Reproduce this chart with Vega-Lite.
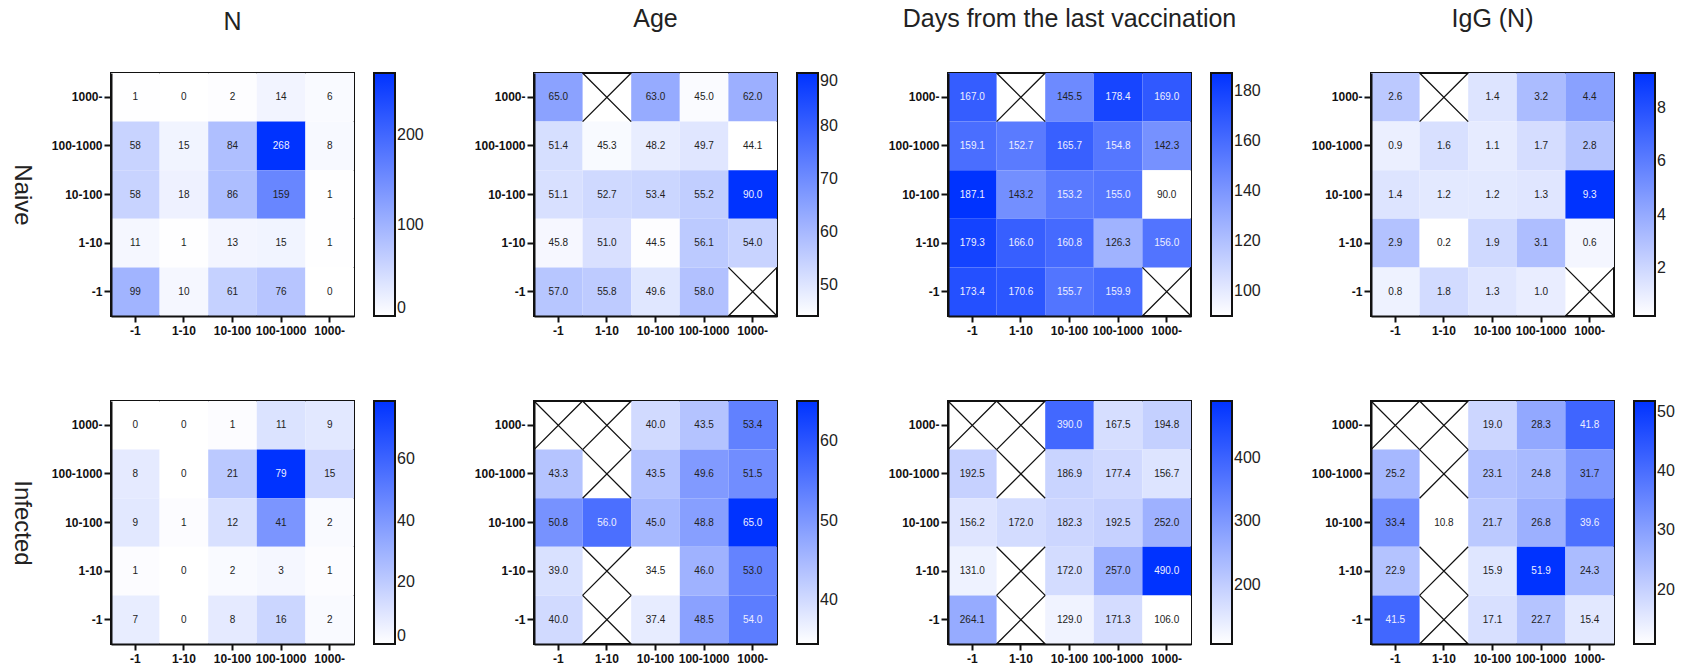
{
  "$schema": "https://vega.github.io/schema/vega-lite/v6.json",
  "padding": {"left": 8, "top": 6, "right": 0, "bottom": 2},
  "background": "white",
  "resolve": {"scale": {"color": "independent", "x": "independent", "y": "independent"}, "legend": {"color": "independent"}},
  "datasets": {
    "d": [
      {"g":"Naive","m":"N","y":"1000-","x":"-1","v":1},{"g":"Naive","m":"N","y":"1000-","x":"1-10","v":0},{"g":"Naive","m":"N","y":"1000-","x":"10-100","v":2},{"g":"Naive","m":"N","y":"1000-","x":"100-1000","v":14},{"g":"Naive","m":"N","y":"1000-","x":"1000-","v":6},
      {"g":"Naive","m":"N","y":"100-1000","x":"-1","v":58},{"g":"Naive","m":"N","y":"100-1000","x":"1-10","v":15},{"g":"Naive","m":"N","y":"100-1000","x":"10-100","v":84},{"g":"Naive","m":"N","y":"100-1000","x":"100-1000","v":268},{"g":"Naive","m":"N","y":"100-1000","x":"1000-","v":8},
      {"g":"Naive","m":"N","y":"10-100","x":"-1","v":58},{"g":"Naive","m":"N","y":"10-100","x":"1-10","v":18},{"g":"Naive","m":"N","y":"10-100","x":"10-100","v":86},{"g":"Naive","m":"N","y":"10-100","x":"100-1000","v":159},{"g":"Naive","m":"N","y":"10-100","x":"1000-","v":1},
      {"g":"Naive","m":"N","y":"1-10","x":"-1","v":11},{"g":"Naive","m":"N","y":"1-10","x":"1-10","v":1},{"g":"Naive","m":"N","y":"1-10","x":"10-100","v":13},{"g":"Naive","m":"N","y":"1-10","x":"100-1000","v":15},{"g":"Naive","m":"N","y":"1-10","x":"1000-","v":1},
      {"g":"Naive","m":"N","y":"-1","x":"-1","v":99},{"g":"Naive","m":"N","y":"-1","x":"1-10","v":10},{"g":"Naive","m":"N","y":"-1","x":"10-100","v":61},{"g":"Naive","m":"N","y":"-1","x":"100-1000","v":76},{"g":"Naive","m":"N","y":"-1","x":"1000-","v":0},

      {"g":"Naive","m":"Age","y":"1000-","x":"-1","v":65.0},{"g":"Naive","m":"Age","y":"1000-","x":"1-10","v":null},{"g":"Naive","m":"Age","y":"1000-","x":"10-100","v":63.0},{"g":"Naive","m":"Age","y":"1000-","x":"100-1000","v":45.0},{"g":"Naive","m":"Age","y":"1000-","x":"1000-","v":62.0},
      {"g":"Naive","m":"Age","y":"100-1000","x":"-1","v":51.4},{"g":"Naive","m":"Age","y":"100-1000","x":"1-10","v":45.3},{"g":"Naive","m":"Age","y":"100-1000","x":"10-100","v":48.2},{"g":"Naive","m":"Age","y":"100-1000","x":"100-1000","v":49.7},{"g":"Naive","m":"Age","y":"100-1000","x":"1000-","v":44.1},
      {"g":"Naive","m":"Age","y":"10-100","x":"-1","v":51.1},{"g":"Naive","m":"Age","y":"10-100","x":"1-10","v":52.7},{"g":"Naive","m":"Age","y":"10-100","x":"10-100","v":53.4},{"g":"Naive","m":"Age","y":"10-100","x":"100-1000","v":55.2},{"g":"Naive","m":"Age","y":"10-100","x":"1000-","v":90.0},
      {"g":"Naive","m":"Age","y":"1-10","x":"-1","v":45.8},{"g":"Naive","m":"Age","y":"1-10","x":"1-10","v":51.0},{"g":"Naive","m":"Age","y":"1-10","x":"10-100","v":44.5},{"g":"Naive","m":"Age","y":"1-10","x":"100-1000","v":56.1},{"g":"Naive","m":"Age","y":"1-10","x":"1000-","v":54.0},
      {"g":"Naive","m":"Age","y":"-1","x":"-1","v":57.0},{"g":"Naive","m":"Age","y":"-1","x":"1-10","v":55.8},{"g":"Naive","m":"Age","y":"-1","x":"10-100","v":49.6},{"g":"Naive","m":"Age","y":"-1","x":"100-1000","v":58.0},{"g":"Naive","m":"Age","y":"-1","x":"1000-","v":null},

      {"g":"Naive","m":"Days","y":"1000-","x":"-1","v":167.0},{"g":"Naive","m":"Days","y":"1000-","x":"1-10","v":null},{"g":"Naive","m":"Days","y":"1000-","x":"10-100","v":145.5},{"g":"Naive","m":"Days","y":"1000-","x":"100-1000","v":178.4},{"g":"Naive","m":"Days","y":"1000-","x":"1000-","v":169.0},
      {"g":"Naive","m":"Days","y":"100-1000","x":"-1","v":159.1},{"g":"Naive","m":"Days","y":"100-1000","x":"1-10","v":152.7},{"g":"Naive","m":"Days","y":"100-1000","x":"10-100","v":165.7},{"g":"Naive","m":"Days","y":"100-1000","x":"100-1000","v":154.8},{"g":"Naive","m":"Days","y":"100-1000","x":"1000-","v":142.3},
      {"g":"Naive","m":"Days","y":"10-100","x":"-1","v":187.1},{"g":"Naive","m":"Days","y":"10-100","x":"1-10","v":143.2},{"g":"Naive","m":"Days","y":"10-100","x":"10-100","v":153.2},{"g":"Naive","m":"Days","y":"10-100","x":"100-1000","v":155.0},{"g":"Naive","m":"Days","y":"10-100","x":"1000-","v":90.0},
      {"g":"Naive","m":"Days","y":"1-10","x":"-1","v":179.3},{"g":"Naive","m":"Days","y":"1-10","x":"1-10","v":166.0},{"g":"Naive","m":"Days","y":"1-10","x":"10-100","v":160.8},{"g":"Naive","m":"Days","y":"1-10","x":"100-1000","v":126.3},{"g":"Naive","m":"Days","y":"1-10","x":"1000-","v":156.0},
      {"g":"Naive","m":"Days","y":"-1","x":"-1","v":173.4},{"g":"Naive","m":"Days","y":"-1","x":"1-10","v":170.6},{"g":"Naive","m":"Days","y":"-1","x":"10-100","v":155.7},{"g":"Naive","m":"Days","y":"-1","x":"100-1000","v":159.9},{"g":"Naive","m":"Days","y":"-1","x":"1000-","v":null},

      {"g":"Naive","m":"IgG","y":"1000-","x":"-1","v":2.6},{"g":"Naive","m":"IgG","y":"1000-","x":"1-10","v":null},{"g":"Naive","m":"IgG","y":"1000-","x":"10-100","v":1.4},{"g":"Naive","m":"IgG","y":"1000-","x":"100-1000","v":3.2},{"g":"Naive","m":"IgG","y":"1000-","x":"1000-","v":4.4},
      {"g":"Naive","m":"IgG","y":"100-1000","x":"-1","v":0.9},{"g":"Naive","m":"IgG","y":"100-1000","x":"1-10","v":1.6},{"g":"Naive","m":"IgG","y":"100-1000","x":"10-100","v":1.1},{"g":"Naive","m":"IgG","y":"100-1000","x":"100-1000","v":1.7},{"g":"Naive","m":"IgG","y":"100-1000","x":"1000-","v":2.8},
      {"g":"Naive","m":"IgG","y":"10-100","x":"-1","v":1.4},{"g":"Naive","m":"IgG","y":"10-100","x":"1-10","v":1.2},{"g":"Naive","m":"IgG","y":"10-100","x":"10-100","v":1.2},{"g":"Naive","m":"IgG","y":"10-100","x":"100-1000","v":1.3},{"g":"Naive","m":"IgG","y":"10-100","x":"1000-","v":9.3},
      {"g":"Naive","m":"IgG","y":"1-10","x":"-1","v":2.9},{"g":"Naive","m":"IgG","y":"1-10","x":"1-10","v":0.2},{"g":"Naive","m":"IgG","y":"1-10","x":"10-100","v":1.9},{"g":"Naive","m":"IgG","y":"1-10","x":"100-1000","v":3.1},{"g":"Naive","m":"IgG","y":"1-10","x":"1000-","v":0.6},
      {"g":"Naive","m":"IgG","y":"-1","x":"-1","v":0.8},{"g":"Naive","m":"IgG","y":"-1","x":"1-10","v":1.8},{"g":"Naive","m":"IgG","y":"-1","x":"10-100","v":1.3},{"g":"Naive","m":"IgG","y":"-1","x":"100-1000","v":1.0},{"g":"Naive","m":"IgG","y":"-1","x":"1000-","v":null},

      {"g":"Infected","m":"N","y":"1000-","x":"-1","v":0},{"g":"Infected","m":"N","y":"1000-","x":"1-10","v":0},{"g":"Infected","m":"N","y":"1000-","x":"10-100","v":1},{"g":"Infected","m":"N","y":"1000-","x":"100-1000","v":11},{"g":"Infected","m":"N","y":"1000-","x":"1000-","v":9},
      {"g":"Infected","m":"N","y":"100-1000","x":"-1","v":8},{"g":"Infected","m":"N","y":"100-1000","x":"1-10","v":0},{"g":"Infected","m":"N","y":"100-1000","x":"10-100","v":21},{"g":"Infected","m":"N","y":"100-1000","x":"100-1000","v":79},{"g":"Infected","m":"N","y":"100-1000","x":"1000-","v":15},
      {"g":"Infected","m":"N","y":"10-100","x":"-1","v":9},{"g":"Infected","m":"N","y":"10-100","x":"1-10","v":1},{"g":"Infected","m":"N","y":"10-100","x":"10-100","v":12},{"g":"Infected","m":"N","y":"10-100","x":"100-1000","v":41},{"g":"Infected","m":"N","y":"10-100","x":"1000-","v":2},
      {"g":"Infected","m":"N","y":"1-10","x":"-1","v":1},{"g":"Infected","m":"N","y":"1-10","x":"1-10","v":0},{"g":"Infected","m":"N","y":"1-10","x":"10-100","v":2},{"g":"Infected","m":"N","y":"1-10","x":"100-1000","v":3},{"g":"Infected","m":"N","y":"1-10","x":"1000-","v":1},
      {"g":"Infected","m":"N","y":"-1","x":"-1","v":7},{"g":"Infected","m":"N","y":"-1","x":"1-10","v":0},{"g":"Infected","m":"N","y":"-1","x":"10-100","v":8},{"g":"Infected","m":"N","y":"-1","x":"100-1000","v":16},{"g":"Infected","m":"N","y":"-1","x":"1000-","v":2},

      {"g":"Infected","m":"Age","y":"1000-","x":"-1","v":null},{"g":"Infected","m":"Age","y":"1000-","x":"1-10","v":null},{"g":"Infected","m":"Age","y":"1000-","x":"10-100","v":40.0},{"g":"Infected","m":"Age","y":"1000-","x":"100-1000","v":43.5},{"g":"Infected","m":"Age","y":"1000-","x":"1000-","v":53.4},
      {"g":"Infected","m":"Age","y":"100-1000","x":"-1","v":43.3},{"g":"Infected","m":"Age","y":"100-1000","x":"1-10","v":null},{"g":"Infected","m":"Age","y":"100-1000","x":"10-100","v":43.5},{"g":"Infected","m":"Age","y":"100-1000","x":"100-1000","v":49.6},{"g":"Infected","m":"Age","y":"100-1000","x":"1000-","v":51.5},
      {"g":"Infected","m":"Age","y":"10-100","x":"-1","v":50.8},{"g":"Infected","m":"Age","y":"10-100","x":"1-10","v":56.0},{"g":"Infected","m":"Age","y":"10-100","x":"10-100","v":45.0},{"g":"Infected","m":"Age","y":"10-100","x":"100-1000","v":48.8},{"g":"Infected","m":"Age","y":"10-100","x":"1000-","v":65.0},
      {"g":"Infected","m":"Age","y":"1-10","x":"-1","v":39.0},{"g":"Infected","m":"Age","y":"1-10","x":"1-10","v":null},{"g":"Infected","m":"Age","y":"1-10","x":"10-100","v":34.5},{"g":"Infected","m":"Age","y":"1-10","x":"100-1000","v":46.0},{"g":"Infected","m":"Age","y":"1-10","x":"1000-","v":53.0},
      {"g":"Infected","m":"Age","y":"-1","x":"-1","v":40.0},{"g":"Infected","m":"Age","y":"-1","x":"1-10","v":null},{"g":"Infected","m":"Age","y":"-1","x":"10-100","v":37.4},{"g":"Infected","m":"Age","y":"-1","x":"100-1000","v":48.5},{"g":"Infected","m":"Age","y":"-1","x":"1000-","v":54.0},

      {"g":"Infected","m":"Days","y":"1000-","x":"-1","v":null},{"g":"Infected","m":"Days","y":"1000-","x":"1-10","v":null},{"g":"Infected","m":"Days","y":"1000-","x":"10-100","v":390.0},{"g":"Infected","m":"Days","y":"1000-","x":"100-1000","v":167.5},{"g":"Infected","m":"Days","y":"1000-","x":"1000-","v":194.8},
      {"g":"Infected","m":"Days","y":"100-1000","x":"-1","v":192.5},{"g":"Infected","m":"Days","y":"100-1000","x":"1-10","v":null},{"g":"Infected","m":"Days","y":"100-1000","x":"10-100","v":186.9},{"g":"Infected","m":"Days","y":"100-1000","x":"100-1000","v":177.4},{"g":"Infected","m":"Days","y":"100-1000","x":"1000-","v":156.7},
      {"g":"Infected","m":"Days","y":"10-100","x":"-1","v":156.2},{"g":"Infected","m":"Days","y":"10-100","x":"1-10","v":172.0},{"g":"Infected","m":"Days","y":"10-100","x":"10-100","v":182.3},{"g":"Infected","m":"Days","y":"10-100","x":"100-1000","v":192.5},{"g":"Infected","m":"Days","y":"10-100","x":"1000-","v":252.0},
      {"g":"Infected","m":"Days","y":"1-10","x":"-1","v":131.0},{"g":"Infected","m":"Days","y":"1-10","x":"1-10","v":null},{"g":"Infected","m":"Days","y":"1-10","x":"10-100","v":172.0},{"g":"Infected","m":"Days","y":"1-10","x":"100-1000","v":257.0},{"g":"Infected","m":"Days","y":"1-10","x":"1000-","v":490.0},
      {"g":"Infected","m":"Days","y":"-1","x":"-1","v":264.1},{"g":"Infected","m":"Days","y":"-1","x":"1-10","v":null},{"g":"Infected","m":"Days","y":"-1","x":"10-100","v":129.0},{"g":"Infected","m":"Days","y":"-1","x":"100-1000","v":171.3},{"g":"Infected","m":"Days","y":"-1","x":"1000-","v":106.0},

      {"g":"Infected","m":"IgG","y":"1000-","x":"-1","v":null},{"g":"Infected","m":"IgG","y":"1000-","x":"1-10","v":null},{"g":"Infected","m":"IgG","y":"1000-","x":"10-100","v":19.0},{"g":"Infected","m":"IgG","y":"1000-","x":"100-1000","v":28.3},{"g":"Infected","m":"IgG","y":"1000-","x":"1000-","v":41.8},
      {"g":"Infected","m":"IgG","y":"100-1000","x":"-1","v":25.2},{"g":"Infected","m":"IgG","y":"100-1000","x":"1-10","v":null},{"g":"Infected","m":"IgG","y":"100-1000","x":"10-100","v":23.1},{"g":"Infected","m":"IgG","y":"100-1000","x":"100-1000","v":24.8},{"g":"Infected","m":"IgG","y":"100-1000","x":"1000-","v":31.7},
      {"g":"Infected","m":"IgG","y":"10-100","x":"-1","v":33.4},{"g":"Infected","m":"IgG","y":"10-100","x":"1-10","v":10.8},{"g":"Infected","m":"IgG","y":"10-100","x":"10-100","v":21.7},{"g":"Infected","m":"IgG","y":"10-100","x":"100-1000","v":26.8},{"g":"Infected","m":"IgG","y":"10-100","x":"1000-","v":39.6},
      {"g":"Infected","m":"IgG","y":"1-10","x":"-1","v":22.9},{"g":"Infected","m":"IgG","y":"1-10","x":"1-10","v":null},{"g":"Infected","m":"IgG","y":"1-10","x":"10-100","v":15.9},{"g":"Infected","m":"IgG","y":"1-10","x":"100-1000","v":51.9},{"g":"Infected","m":"IgG","y":"1-10","x":"1000-","v":24.3},
      {"g":"Infected","m":"IgG","y":"-1","x":"-1","v":41.5},{"g":"Infected","m":"IgG","y":"-1","x":"1-10","v":null},{"g":"Infected","m":"IgG","y":"-1","x":"10-100","v":17.1},{"g":"Infected","m":"IgG","y":"-1","x":"100-1000","v":22.7},{"g":"Infected","m":"IgG","y":"-1","x":"1000-","v":15.4}
    ]
  },
  "columns": 4,
  "spacing": {"row": 60, "column": 48},
  "concat": [
    {
      "data": {"name": "d"}, "transform": [{"filter": "datum.g === 'Naive' && datum.m === 'N'"}],
      "width": 243, "height": 243, "title": "N",
      "encoding": {
        "x": {"field": "x", "type": "ordinal", "scale": {"domain": ["-1","1-10","10-100","100-1000","1000-"], "paddingInner": 0, "paddingOuter": 0}},
        "y": {"field": "y", "type": "ordinal", "scale": {"domain": ["1000-","100-1000","10-100","1-10","-1"], "paddingInner": 0, "paddingOuter": 0}, "axis": {"title": "Naive"}}
      },
      "layer": [
        {"transform": [{"filter": "isValid(datum.v)"}], "mark": "rect", "encoding": {"color": {"field": "v", "type": "quantitative", "scale": {"domain": [0, 268], "range": ["#ffffff", "#0033ff"], "interpolate": "rgb"}, "legend": {"title": null, "values": [0, 100, 200]}}}},
        {"transform": [{"filter": "isValid(datum.v)"}, {"joinaggregate": [{"op": "min", "field": "v", "as": "lo"}, {"op": "max", "field": "v", "as": "hi"}]}], "mark": {"type": "text", "fontSize": 10, "font": "Liberation Sans"}, "encoding": {"text": {"field": "v", "type": "quantitative", "format": "d"}, "color": {"condition": {"test": "(datum.v - datum.lo) / (datum.hi - datum.lo) > 0.63", "value": "#eeeeff"}, "value": "#222222"}}},
        {"transform": [{"filter": "!isValid(datum.v)"}], "mark": {"type": "point", "shape": "M-1,-1L1,1M-1,1L1,-1", "size": 2362, "filled": false, "stroke": "#111111", "strokeWidth": 1.3, "opacity": 1}, "encoding": {}}
      ]
    },
    {
      "data": {"name": "d"}, "transform": [{"filter": "datum.g === 'Naive' && datum.m === 'Age'"}],
      "width": 243, "height": 243, "title": "Age",
      "encoding": {
        "x": {"field": "x", "type": "ordinal", "scale": {"domain": ["-1","1-10","10-100","100-1000","1000-"], "paddingInner": 0, "paddingOuter": 0}},
        "y": {"field": "y", "type": "ordinal", "scale": {"domain": ["1000-","100-1000","10-100","1-10","-1"], "paddingInner": 0, "paddingOuter": 0}}
      },
      "layer": [
        {"transform": [{"filter": "isValid(datum.v)"}], "mark": "rect", "encoding": {"color": {"field": "v", "type": "quantitative", "scale": {"domain": [44.1, 90], "range": ["#ffffff", "#0033ff"], "interpolate": "rgb"}, "legend": {"title": null, "values": [50, 60, 70, 80, 90]}}}},
        {"transform": [{"filter": "isValid(datum.v)"}, {"joinaggregate": [{"op": "min", "field": "v", "as": "lo"}, {"op": "max", "field": "v", "as": "hi"}]}], "mark": {"type": "text", "fontSize": 10, "font": "Liberation Sans"}, "encoding": {"text": {"field": "v", "type": "quantitative", "format": ".1f"}, "color": {"condition": {"test": "(datum.v - datum.lo) / (datum.hi - datum.lo) > 0.63", "value": "#eeeeff"}, "value": "#222222"}}},
        {"transform": [{"filter": "!isValid(datum.v)"}], "mark": {"type": "point", "shape": "M-1,-1L1,1M-1,1L1,-1", "size": 2362, "filled": false, "stroke": "#111111", "strokeWidth": 1.3, "opacity": 1}, "encoding": {}}
      ]
    },
    {
      "data": {"name": "d"}, "transform": [{"filter": "datum.g === 'Naive' && datum.m === 'Days'"}],
      "width": 243, "height": 243, "title": "Days from the last vaccination",
      "encoding": {
        "x": {"field": "x", "type": "ordinal", "scale": {"domain": ["-1","1-10","10-100","100-1000","1000-"], "paddingInner": 0, "paddingOuter": 0}},
        "y": {"field": "y", "type": "ordinal", "scale": {"domain": ["1000-","100-1000","10-100","1-10","-1"], "paddingInner": 0, "paddingOuter": 0}}
      },
      "layer": [
        {"transform": [{"filter": "isValid(datum.v)"}], "mark": "rect", "encoding": {"color": {"field": "v", "type": "quantitative", "scale": {"domain": [90, 187.1], "range": ["#ffffff", "#0033ff"], "interpolate": "rgb"}, "legend": {"title": null, "values": [100, 120, 140, 160, 180]}}}},
        {"transform": [{"filter": "isValid(datum.v)"}, {"joinaggregate": [{"op": "min", "field": "v", "as": "lo"}, {"op": "max", "field": "v", "as": "hi"}]}], "mark": {"type": "text", "fontSize": 10, "font": "Liberation Sans"}, "encoding": {"text": {"field": "v", "type": "quantitative", "format": ".1f"}, "color": {"condition": {"test": "(datum.v - datum.lo) / (datum.hi - datum.lo) > 0.63", "value": "#eeeeff"}, "value": "#222222"}}},
        {"transform": [{"filter": "!isValid(datum.v)"}], "mark": {"type": "point", "shape": "M-1,-1L1,1M-1,1L1,-1", "size": 2362, "filled": false, "stroke": "#111111", "strokeWidth": 1.3, "opacity": 1}, "encoding": {}}
      ]
    },
    {
      "data": {"name": "d"}, "transform": [{"filter": "datum.g === 'Naive' && datum.m === 'IgG'"}],
      "width": 243, "height": 243, "title": "IgG (N)",
      "encoding": {
        "x": {"field": "x", "type": "ordinal", "scale": {"domain": ["-1","1-10","10-100","100-1000","1000-"], "paddingInner": 0, "paddingOuter": 0}},
        "y": {"field": "y", "type": "ordinal", "scale": {"domain": ["1000-","100-1000","10-100","1-10","-1"], "paddingInner": 0, "paddingOuter": 0}}
      },
      "layer": [
        {"transform": [{"filter": "isValid(datum.v)"}], "mark": "rect", "encoding": {"color": {"field": "v", "type": "quantitative", "scale": {"domain": [0.2, 9.3], "range": ["#ffffff", "#0033ff"], "interpolate": "rgb"}, "legend": {"title": null, "values": [2, 4, 6, 8]}}}},
        {"transform": [{"filter": "isValid(datum.v)"}, {"joinaggregate": [{"op": "min", "field": "v", "as": "lo"}, {"op": "max", "field": "v", "as": "hi"}]}], "mark": {"type": "text", "fontSize": 10, "font": "Liberation Sans"}, "encoding": {"text": {"field": "v", "type": "quantitative", "format": ".1f"}, "color": {"condition": {"test": "(datum.v - datum.lo) / (datum.hi - datum.lo) > 0.63", "value": "#eeeeff"}, "value": "#222222"}}},
        {"transform": [{"filter": "!isValid(datum.v)"}], "mark": {"type": "point", "shape": "M-1,-1L1,1M-1,1L1,-1", "size": 2362, "filled": false, "stroke": "#111111", "strokeWidth": 1.3, "opacity": 1}, "encoding": {}}
      ]
    },
    {
      "data": {"name": "d"}, "transform": [{"filter": "datum.g === 'Infected' && datum.m === 'N'"}],
      "width": 243, "height": 243,
      "encoding": {
        "x": {"field": "x", "type": "ordinal", "scale": {"domain": ["-1","1-10","10-100","100-1000","1000-"], "paddingInner": 0, "paddingOuter": 0}},
        "y": {"field": "y", "type": "ordinal", "scale": {"domain": ["1000-","100-1000","10-100","1-10","-1"], "paddingInner": 0, "paddingOuter": 0}, "axis": {"title": "Infected"}}
      },
      "layer": [
        {"transform": [{"filter": "isValid(datum.v)"}], "mark": "rect", "encoding": {"color": {"field": "v", "type": "quantitative", "scale": {"domain": [0, 79], "range": ["#ffffff", "#0033ff"], "interpolate": "rgb"}, "legend": {"title": null, "values": [0, 20, 40, 60]}}}},
        {"transform": [{"filter": "isValid(datum.v)"}, {"joinaggregate": [{"op": "min", "field": "v", "as": "lo"}, {"op": "max", "field": "v", "as": "hi"}]}], "mark": {"type": "text", "fontSize": 10, "font": "Liberation Sans"}, "encoding": {"text": {"field": "v", "type": "quantitative", "format": "d"}, "color": {"condition": {"test": "(datum.v - datum.lo) / (datum.hi - datum.lo) > 0.63", "value": "#eeeeff"}, "value": "#222222"}}},
        {"transform": [{"filter": "!isValid(datum.v)"}], "mark": {"type": "point", "shape": "M-1,-1L1,1M-1,1L1,-1", "size": 2362, "filled": false, "stroke": "#111111", "strokeWidth": 1.3, "opacity": 1}, "encoding": {}}
      ]
    },
    {
      "data": {"name": "d"}, "transform": [{"filter": "datum.g === 'Infected' && datum.m === 'Age'"}],
      "width": 243, "height": 243,
      "encoding": {
        "x": {"field": "x", "type": "ordinal", "scale": {"domain": ["-1","1-10","10-100","100-1000","1000-"], "paddingInner": 0, "paddingOuter": 0}},
        "y": {"field": "y", "type": "ordinal", "scale": {"domain": ["1000-","100-1000","10-100","1-10","-1"], "paddingInner": 0, "paddingOuter": 0}}
      },
      "layer": [
        {"transform": [{"filter": "isValid(datum.v)"}], "mark": "rect", "encoding": {"color": {"field": "v", "type": "quantitative", "scale": {"domain": [34.5, 65], "range": ["#ffffff", "#0033ff"], "interpolate": "rgb"}, "legend": {"title": null, "values": [40, 50, 60]}}}},
        {"transform": [{"filter": "isValid(datum.v)"}, {"joinaggregate": [{"op": "min", "field": "v", "as": "lo"}, {"op": "max", "field": "v", "as": "hi"}]}], "mark": {"type": "text", "fontSize": 10, "font": "Liberation Sans"}, "encoding": {"text": {"field": "v", "type": "quantitative", "format": ".1f"}, "color": {"condition": {"test": "(datum.v - datum.lo) / (datum.hi - datum.lo) > 0.63", "value": "#eeeeff"}, "value": "#222222"}}},
        {"transform": [{"filter": "!isValid(datum.v)"}], "mark": {"type": "point", "shape": "M-1,-1L1,1M-1,1L1,-1", "size": 2362, "filled": false, "stroke": "#111111", "strokeWidth": 1.3, "opacity": 1}, "encoding": {}}
      ]
    },
    {
      "data": {"name": "d"}, "transform": [{"filter": "datum.g === 'Infected' && datum.m === 'Days'"}],
      "width": 243, "height": 243,
      "encoding": {
        "x": {"field": "x", "type": "ordinal", "scale": {"domain": ["-1","1-10","10-100","100-1000","1000-"], "paddingInner": 0, "paddingOuter": 0}},
        "y": {"field": "y", "type": "ordinal", "scale": {"domain": ["1000-","100-1000","10-100","1-10","-1"], "paddingInner": 0, "paddingOuter": 0}}
      },
      "layer": [
        {"transform": [{"filter": "isValid(datum.v)"}], "mark": "rect", "encoding": {"color": {"field": "v", "type": "quantitative", "scale": {"domain": [106, 490], "range": ["#ffffff", "#0033ff"], "interpolate": "rgb"}, "legend": {"title": null, "values": [200, 300, 400]}}}},
        {"transform": [{"filter": "isValid(datum.v)"}, {"joinaggregate": [{"op": "min", "field": "v", "as": "lo"}, {"op": "max", "field": "v", "as": "hi"}]}], "mark": {"type": "text", "fontSize": 10, "font": "Liberation Sans"}, "encoding": {"text": {"field": "v", "type": "quantitative", "format": ".1f"}, "color": {"condition": {"test": "(datum.v - datum.lo) / (datum.hi - datum.lo) > 0.63", "value": "#eeeeff"}, "value": "#222222"}}},
        {"transform": [{"filter": "!isValid(datum.v)"}], "mark": {"type": "point", "shape": "M-1,-1L1,1M-1,1L1,-1", "size": 2362, "filled": false, "stroke": "#111111", "strokeWidth": 1.3, "opacity": 1}, "encoding": {}}
      ]
    },
    {
      "data": {"name": "d"}, "transform": [{"filter": "datum.g === 'Infected' && datum.m === 'IgG'"}],
      "width": 243, "height": 243,
      "encoding": {
        "x": {"field": "x", "type": "ordinal", "scale": {"domain": ["-1","1-10","10-100","100-1000","1000-"], "paddingInner": 0, "paddingOuter": 0}},
        "y": {"field": "y", "type": "ordinal", "scale": {"domain": ["1000-","100-1000","10-100","1-10","-1"], "paddingInner": 0, "paddingOuter": 0}}
      },
      "layer": [
        {"transform": [{"filter": "isValid(datum.v)"}], "mark": "rect", "encoding": {"color": {"field": "v", "type": "quantitative", "scale": {"domain": [10.8, 51.9], "range": ["#ffffff", "#0033ff"], "interpolate": "rgb"}, "legend": {"title": null, "values": [20, 30, 40, 50]}}}},
        {"transform": [{"filter": "isValid(datum.v)"}, {"joinaggregate": [{"op": "min", "field": "v", "as": "lo"}, {"op": "max", "field": "v", "as": "hi"}]}], "mark": {"type": "text", "fontSize": 10, "font": "Liberation Sans"}, "encoding": {"text": {"field": "v", "type": "quantitative", "format": ".1f"}, "color": {"condition": {"test": "(datum.v - datum.lo) / (datum.hi - datum.lo) > 0.63", "value": "#eeeeff"}, "value": "#222222"}}},
        {"transform": [{"filter": "!isValid(datum.v)"}], "mark": {"type": "point", "shape": "M-1,-1L1,1M-1,1L1,-1", "size": 2362, "filled": false, "stroke": "#111111", "strokeWidth": 1.3, "opacity": 1}, "encoding": {}}
      ]
    }
  ],
  "config": {
    "font": "Liberation Sans",
    "view": {"stroke": "#111111", "strokeWidth": 2},
    "title": {"fontSize": 25, "fontWeight": "normal", "color": "#222222", "font": "Liberation Sans", "anchor": "middle", "frame": "group", "offset": 38},
    "axis": {"title": null, "labelFont": "Liberation Sans", "labelFontWeight": "bold", "labelFontSize": 12, "labelColor": "#111111", "tickColor": "#111111", "tickWidth": 2, "domainColor": "#111111", "domainWidth": 2, "grid": false, "labelOverlap": false, "labelBound": false, "titleFont": "Liberation Sans", "titleFontSize": 24, "titleFontWeight": "normal", "titleColor": "#222222"},
    "axisX": {"labelAngle": 0, "tickSize": 6, "labelPadding": 3},
    "axisY": {"tickSize": 7, "labelPadding": 2, "titleAngle": 90, "titlePadding": 42},
    "legend": {"orient": "right", "offset": 20, "padding": 0, "gradientLength": 243, "gradientThickness": 21, "gradientStrokeColor": "#111111", "gradientStrokeWidth": 2, "labelFontSize": 16, "labelFont": "Liberation Sans", "labelColor": "#222222", "labelOffset": 7, "labelOverlap": false}
  }
}
